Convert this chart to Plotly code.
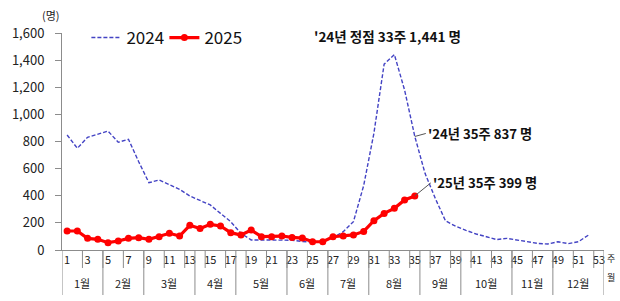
import plotly.graph_objects as go

weeks_2024 = list(range(1, 53))
values_2024 = [848, 750, 831, 853, 877, 794, 816, 651, 496, 516, 479, 447, 398, 364, 332,
               270, 209, 123, 74, 74, 72, 70, 72, 63, 58, 62, 90, 135, 209, 475, 861,
               1370, 1441, 1180, 837, 565, 381, 215, 175, 145, 118, 98, 77, 86, 72,
               63, 49, 44, 61, 47, 61, 111]

weeks_2025 = list(range(1, 36))
values_2025 = [140, 140, 86, 79, 54, 66, 86, 91, 79, 98, 123, 103, 182, 158, 189,
               177, 128, 111, 147, 98, 98, 103, 93, 88, 61, 61, 98, 103, 111, 137,
               216, 270, 307, 369, 399]

months = ['1월', '2월', '3월', '4월', '5월', '6월', '7월', '8월', '9월', '10월', '11월', '12월']
month_first_week = [1, 5, 9, 14, 18, 23, 27, 31, 36, 40, 45, 49]
month_last_week = [4, 8, 13, 17, 22, 26, 30, 35, 39, 44, 48, 53]

week_ticks = list(range(1, 54, 2))

FONT = "Noto Sans CJK KR"
TXT = "#222222"
AX = "#8c8c8c"

W, H = 620, 301
ML, MR, MT, MB = 48, 16, 33, 51
plot_h = H - MT - MB

fig = go.Figure()
fig.add_trace(go.Scatter(x=weeks_2024, y=values_2024, name="2024", mode="lines",
                         line=dict(color="#4343c4", width=1.4, dash="4px,2px")))
fig.add_trace(go.Scatter(x=weeks_2025, y=values_2025, name="2025", mode="lines+markers",
                         line=dict(color="#ff0000", width=3.2),
                         marker=dict(color="#ff0000", size=7)))

shapes = []
# short tick separators between labelled weeks
for b in range(2, 53, 2):
    shapes.append(dict(type="line", xref="x", yref="paper", x0=b + 0.5, x1=b + 0.5,
                       y0=0, y1=-18 / plot_h, line=dict(color=AX, width=1)))
# month separators
bounds = [f - 0.5 for f in month_first_week] + [month_last_week[-1] + 0.5]
for b in bounds:
    shapes.append(dict(type="line", xref="x", yref="paper", x0=b, x1=b,
                       y0=0, y1=-45 / plot_h, line=dict(color=AX, width=1)))

annotations = []
for m, f, l in zip(months, month_first_week, month_last_week):
    annotations.append(dict(x=(f + l) / 2, y=-33 / plot_h, xref="x", yref="paper",
                            text=m, showarrow=False, font=dict(size=11, color=TXT, family=FONT),
                            xanchor="center", yanchor="middle"))
annotations += [
    dict(x=1.012, y=-8 / plot_h, xref="paper", yref="paper", text="주", showarrow=False,
         font=dict(size=9, color=TXT, family=FONT), xanchor="center", yanchor="middle"),
    dict(x=1.012, y=-27 / plot_h, xref="paper", yref="paper", text="월", showarrow=False,
         font=dict(size=9, color=TXT, family=FONT), xanchor="center", yanchor="middle"),
    dict(x=-11 / (W - ML - MR), y=(plot_h + 18) / plot_h, xref="paper", yref="paper",
         text="(명)", showarrow=False, font=dict(size=11, color=TXT, family=FONT),
         xanchor="center", yanchor="middle"),
    dict(x=32.3, y=(H - MB - 36) / plot_h,
         xref="x", yref="paper", text="<b>'24년 정점 33주 1,441 명</b>", showarrow=False,
         font=dict(size=13.5, color="#111", family=FONT), xanchor="center", yanchor="middle"),
    dict(x=35, y=values_2024[34], xref="x", yref="y", text="<b>'24년 35주 837 명</b>",
         showarrow=True, arrowhead=0, arrowwidth=1, arrowcolor="#555", ax=11, ay=-3,
         xanchor="left", yanchor="middle", font=dict(size=13.2, color="#111", family=FONT)),
    dict(x=35, y=values_2025[34], xref="x", yref="y", text="<b>'25년 35주 399 명</b>",
         showarrow=True, arrowhead=0, arrowwidth=1, arrowcolor="#555", ax=16, ay=-13,
         xanchor="left", yanchor="middle", font=dict(size=13.2, color="#111", family=FONT)),
]

fig.update_layout(
    width=W, height=H, margin=dict(l=ML, r=MR, t=MT, b=MB),
    paper_bgcolor="white", plot_bgcolor="white",
    font=dict(family=FONT, color=TXT),
    showlegend=True,
    legend=dict(orientation="h", x=0.045, y=(plot_h - 5) / plot_h, xanchor="left", yanchor="middle",
                font=dict(size=17, color="#111", family=FONT), bgcolor="rgba(0,0,0,0)",
                entrywidth=33, itemwidth=30, tracegroupgap=0),
    shapes=shapes, annotations=annotations,
    xaxis=dict(range=[0.5, 53.5], tickmode="array", tickvals=week_ticks,
               ticktext=[str(w) for w in week_ticks], ticks="", showgrid=False, zeroline=False,
               showline=True, linecolor=AX, linewidth=1,
               tickfont=dict(size=11, color=TXT, family=FONT), fixedrange=True),
    yaxis=dict(range=[0, 1600], dtick=200, tickformat=",", ticks="outside", ticklen=6,
               tickcolor=AX, showgrid=False, zeroline=False, showline=True, linecolor=AX,
               linewidth=1, ticklabelstandoff=8,
               tickfont=dict(size=13, color=TXT, family=FONT)),
)

fig.write_html("out.html")
